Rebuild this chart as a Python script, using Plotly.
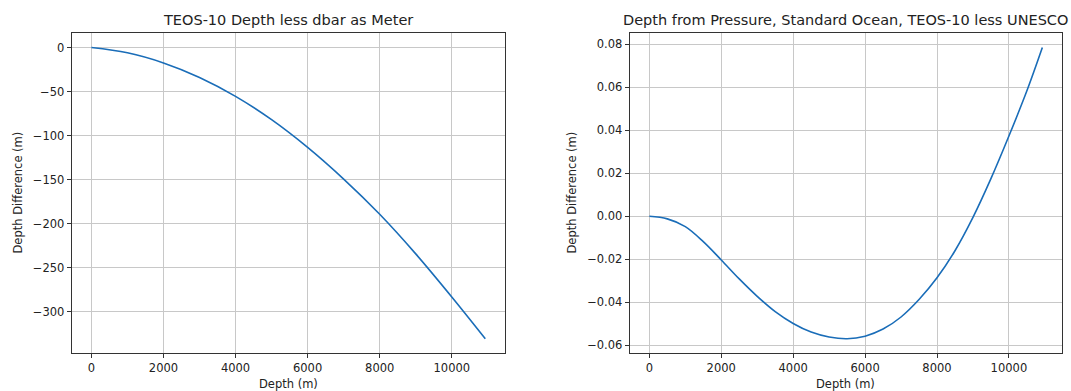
import plotly.graph_objects as go

# Depth grid (m) and differences for each panel
depth_left = [0, 1000, 2000, 3000, 4000, 5000, 6000, 7000, 8000, 9000, 10000, 10930]
diff_dbar = [0.0, -6.0, -17.5, -34.0, -55.5, -82.0, -113.5, -149.5, -189.5, -234.5, -283.5, -331.0]

depth_right = [0, 500, 1000, 1500, 2000, 2500, 3000, 3500, 4000, 4500, 5000, 5500,
               6000, 6500, 7000, 7500, 8000, 8500, 9000, 9500, 10000, 10500, 10930]
diff_unesco = [0.0, -0.0012, -0.0048, -0.0118, -0.0203, -0.0291, -0.0372, -0.0443, -0.0498,
               -0.0538, -0.0561, -0.0569, -0.0557, -0.0524, -0.0468, -0.0387, -0.0286,
               -0.0160, -0.0005, 0.0175, 0.0373, 0.0583, 0.0784]

titles = ["TEOS-10 Depth less dbar as Meter",
          "Depth from Pressure, Standard Ocean, TEOS-10 less UNESCO"]
x_label = "Depth (m)"
y_label = "Depth Difference (m)"

W, H = 1071, 391
LINE = "#1a6db8"
TXT = "#222222"
FONT = "DejaVu Sans"


def padded(vals, frac=0.05):
    lo, hi = min(vals), max(vals)
    pad = (hi - lo) * frac
    return [lo - pad, hi + pad]


fig = go.Figure()
fig.add_trace(go.Scatter(x=depth_left, y=diff_dbar, mode="lines", line_shape="spline",
                         line=dict(color=LINE, width=1.6), xaxis="x", yaxis="y",
                         showlegend=False))
fig.add_trace(go.Scatter(x=depth_right, y=diff_unesco, mode="lines", line_shape="spline",
                         line=dict(color=LINE, width=1.6), xaxis="x2", yaxis="y2",
                         showlegend=False))

# panel boxes in pixels: (left, right, top, bottom)
boxes = [(71.7, 505.0, 33.0, 353.3), (629.7, 1062.0, 33.0, 353.3)]
ydom = [1 - boxes[0][3] / H, 1 - boxes[0][2] / H]

common_axis = dict(showline=True, mirror=True, linecolor="#333333", linewidth=1,
                   ticks="outside", ticklen=4, tickcolor="#333333", tickwidth=1,
                   showgrid=True, gridcolor="#c8c8c8", gridwidth=1, zeroline=False,
                   tickfont=dict(family=FONT, size=11.5, color=TXT))

fig.update_layout(
    width=W, height=H,
    margin=dict(l=0, r=0, t=0, b=0),
    paper_bgcolor="white", plot_bgcolor="white",
    xaxis=dict(domain=[boxes[0][0] / W, boxes[0][1] / W], anchor="y",
               range=padded(depth_left), tick0=0, dtick=2000, tickformat="d", **common_axis),
    yaxis=dict(domain=ydom, anchor="x", range=padded(diff_dbar), tick0=0, dtick=50,
               **common_axis),
    xaxis2=dict(domain=[boxes[1][0] / W, boxes[1][1] / W], anchor="y2",
                range=padded(depth_right), tick0=0, dtick=2000, tickformat="d", **common_axis),
    yaxis2=dict(domain=ydom, anchor="x2", range=padded(diff_unesco), tick0=0, dtick=0.02,
                tickformat=".2f", **common_axis),
)

ann = []
for i, (l, r, t, b) in enumerate(boxes):
    cx = (l + r) / 2 / W
    ann.append(dict(text=titles[i], x=cx, y=1 - 20.5 / H, xref="paper", yref="paper",
                    xanchor="center", yanchor="middle", showarrow=False,
                    font=dict(family=FONT, size=14.5, color=TXT)))
    ann.append(dict(text=x_label, x=cx, y=1 - 383.5 / H, xref="paper", yref="paper",
                    xanchor="center", yanchor="middle", showarrow=False,
                    font=dict(family=FONT, size=11.5, color=TXT)))
ann.append(dict(text=y_label, x=17.5 / W, y=1 - 193 / H, xref="paper", yref="paper",
                xanchor="center", yanchor="middle", textangle=-90, showarrow=False,
                font=dict(family=FONT, size=11.5, color=TXT)))
ann.append(dict(text=y_label, x=571.5 / W, y=1 - 193 / H, xref="paper", yref="paper",
                xanchor="center", yanchor="middle", textangle=-90, showarrow=False,
                font=dict(family=FONT, size=11.5, color=TXT)))
fig.update_layout(annotations=ann)

fig.write_html("out.html")
